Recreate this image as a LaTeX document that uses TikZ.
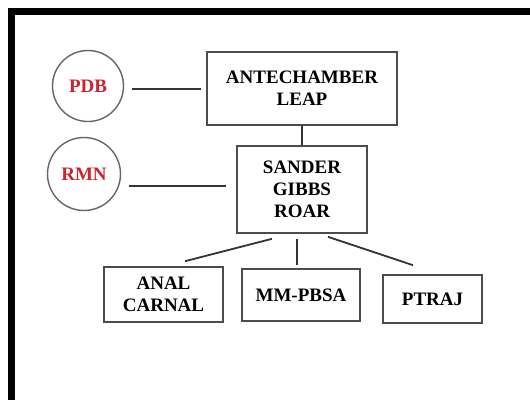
\documentclass[tikz,border=0pt]{standalone}
\usepackage{fontspec}
\setmainfont{Liberation Serif}
\definecolor{dbred}{RGB}{205,35,45}
\begin{document}
\begin{tikzpicture}[x=1pt,y=-1pt,
  prog/.style={rectangle,draw=black!70,line width=1.6pt,align=center,inner sep=0pt,
    font=\fontsize{19}{22}\selectfont\bfseries},
  db/.style={circle,draw=black!60,line width=1.4pt,inner sep=0pt,text=dbred,
    font=\fontsize{19}{22}\selectfont\bfseries},
  link/.style={draw=black!80,line width=1.8pt}]
\useasboundingbox (0,0) rectangle (530,400);
\fill (8,8) rectangle (530,15);
\fill (8,8) rectangle (15,400);

\node[db,minimum size=71pt] (pdb) at (88,86) {PDB};
\node[db,minimum size=73pt] (rmn) at (84,174) {RMN};

\node[prog,minimum width=190pt,minimum height=73pt] (ante) at (302,88.5) {ANTECHAMBER\\LEAP};
\node[prog,minimum width=130pt,minimum height=87pt] (sander) at (302,189.5) {SANDER\\GIBBS\\ROAR};
\node[prog,minimum width=119pt,minimum height=55pt] (anal) at (163.5,294.5) {ANAL\\CARNAL};
\node[prog,minimum width=118pt,minimum height=52pt] (mmpbsa) at (301,295) {MM-PBSA};
\node[prog,minimum width=99pt,minimum height=48pt] (ptraj) at (432.5,299) {PTRAJ};

\draw[link] ([xshift=8pt,yshift=-3pt]pdb.east) -- ([xshift=-5pt,yshift=-0.5pt]ante.west);
\draw[link] ([xshift=8pt,yshift=-12pt]rmn.east) -- ([xshift=-10pt,yshift=3.5pt]sander.west);
\draw[link] (ante) -- (sander);
\draw[link] ([xshift=-30pt,yshift=-5pt]sander.south) -- ([xshift=21.5pt,yshift=5pt]anal.north);
\draw[link] ([xshift=-5pt,yshift=-5pt]sander.south) -- ([xshift=-4pt,yshift=3pt]mmpbsa.north);
\draw[link] ([xshift=26pt,yshift=-3pt]sander.south) -- ([xshift=-19.5pt,yshift=9pt]ptraj.north);
\end{tikzpicture}
\end{document}
